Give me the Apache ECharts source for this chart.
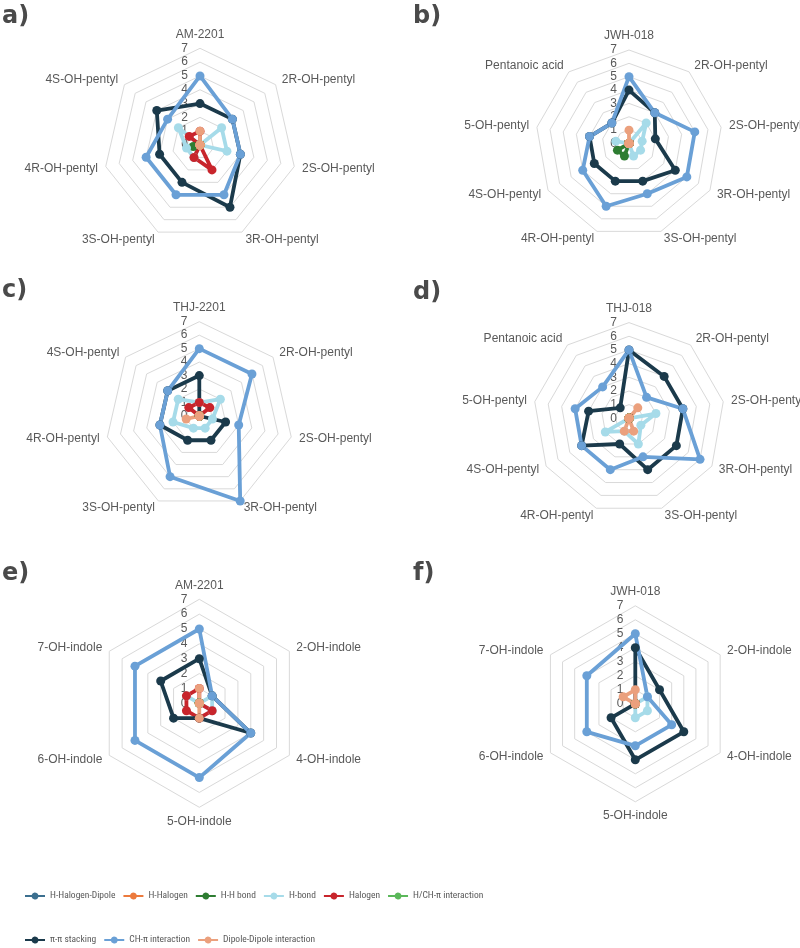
<!DOCTYPE html>
<html>
<head>
<meta charset="utf-8">
<script src="https://cdn.jsdelivr.net/npm/echarts@6.0.0/dist/echarts.min.js"></script>
<style>
  html, body { margin: 0; padding: 0; background: #fff; }
  #chart { width: 800px; height: 948px; }
</style>
</head>
<body>
<div id="chart"></div>
<script>
// interaction types, in drawing / legend order
const seriesNames = ['H-Halogen-Dipole', 'H-Halogen', 'H-H bond', 'H-bond', 'Halogen',
  'H/CH-π interaction', 'π-π stacking', 'CH-π interaction', 'Dipole-Dipole interaction']
const seriesColors = ['#3b6f8f', '#ec7a3d', '#2e7d32', '#a6dbe9', '#c8252c',
  '#5bb85a', '#1b3a4b', '#6aa0d6', '#eba07d']

// spoke names, clockwise from the top
const axesA = ['AM-2201', '2R-OH-pentyl', '2S-OH-pentyl', '3R-OH-pentyl', '3S-OH-pentyl', '4R-OH-pentyl', '4S-OH-pentyl']
const axesB = ['JWH-018', '2R-OH-pentyl', '2S-OH-pentyl', '3R-OH-pentyl', '3S-OH-pentyl', '4R-OH-pentyl', '4S-OH-pentyl', '5-OH-pentyl', 'Pentanoic acid']
const axesC = ['THJ-2201', '2R-OH-pentyl', '2S-OH-pentyl', '3R-OH-pentyl', '3S-OH-pentyl', '4R-OH-pentyl', '4S-OH-pentyl']
const axesD = ['THJ-018', '2R-OH-pentyl', '2S-OH-pentyl', '3R-OH-pentyl', '3S-OH-pentyl', '4R-OH-pentyl', '4S-OH-pentyl', '5-OH-pentyl', 'Pentanoic acid']
const axesE = ['AM-2201', '2-OH-indole', '4-OH-indole', '5-OH-indole', '6-OH-indole', '7-OH-indole']
const axesF = ['JWH-018', '2-OH-indole', '4-OH-indole', '5-OH-indole', '6-OH-indole', '7-OH-indole']

// one row per interaction type (same order as seriesNames)
const valuesA = [
  [0, 0, 0, 0, 0, 0, 0],
  [0, 0, 0, 0, 0, 0, 0],
  [0, 0, 0, 0, 0, 0.5, 0],
  [0, 2, 2, 0, 1, 1, 2],
  [1, 0, 0, 2, 1, 0, 1],
  [0, 0, 0, 0, 0, 0, 0],
  [3, 3, 3, 5, 3, 3, 4],
  [5, 3, 3, 4, 4, 4, 3],
  [1, 0, 0, 0, 0, 0, 0]
]
const valuesB = [
  [0, 0, 0, 0, 0, 0, 0, 0, 0],
  [0, 0, 0, 0, 0, 0, 0, 0, 0],
  [0, 0, 0, 0, 0, 1, 1, 0, 0],
  [0, 2, 1, 1, 1, 0, 0, 1, 0],
  [0, 0, 0, 0, 0, 0, 0, 0, 0],
  [0, 0, 0, 0, 0, 0, 0, 0, 0],
  [4, 3, 2, 4, 3, 3, 3, 3, 2],
  [5, 3, 5, 5, 4, 5, 4, 3, 2],
  [1, 0, 0, 0, 0, 0, 0, 0, 0]
]
const valuesC = [
  [0, 0, 0, 0, 0, 0, 0],
  [0, 0, 0, 0, 0, 0, 0],
  [0, 0, 0, 0, 0, 0, 0],
  [1, 2, 1, 1, 1, 2, 2],
  [1, 1, 0, 0, 0, 0, 1],
  [0, 0, 0, 0, 0, 0, 0],
  [3, 0, 2, 2, 2, 3, 3],
  [5, 5, 3, 7, 5, 3, 3],
  [0, 0, 0, 0, 0, 1, 0]
]
const valuesD = [
  [0, 0, 0, 0, 0, 0, 0, 0, 0],
  [0, 0, 0, 0, 0, 0, 0, 0, 0],
  [0, 0, 0, 0, 0, 0, 0, 0, 0],
  [0, 0, 2, 1, 2, 1, 2, 0, 0],
  [0, 0, 0, 0, 0, 0, 0, 0, 0],
  [0, 0, 0, 0, 0, 0, 0, 0, 0],
  [5, 4, 4, 4, 4, 2, 4, 3, 1],
  [5, 2, 4, 6, 3, 4, 4, 4, 3],
  [0, 1, 0, 0, 1, 1, 0, 0, 0]
]
const valuesE = [
  [0, 0, 0, 0, 0, 0],
  [0, 0, 0, 0, 0, 0],
  [0, 0, 0, 0, 0, 0],
  [0, 1, 1, 0, 0, 1],
  [1, 0, 1, 1, 1, 1],
  [0, 0, 0, 0, 0, 0],
  [3, 1, 4, 1, 2, 3],
  [5, 1, 4, 5, 5, 5],
  [1, 0, 0, 1, 0, 0]
]
const valuesF = [
  [0, 0, 0, 0, 0, 0],
  [0, 0, 0, 0, 0, 0],
  [0, 0, 0, 0, 0, 0],
  [0, 1, 1, 1, 0, 0],
  [0, 0, 0, 0, 0, 0],
  [0, 0, 0, 0, 0, 0],
  [4, 2, 4, 4, 2, 0],
  [5, 1, 3, 3, 4, 4],
  [1, 0, 0, 0, 0, 1]
]
const axisTicks = [0, 7]   // min / max of every spoke

const panels = [
  { label: 'a)', axes: axesA, values: valuesA, center: [200, 145], radius: 96.7, lx: 2, ly: 5 },
  { label: 'b)', axes: axesB, values: valuesB, center: [629, 143.5], radius: 93.5, lx: 413, ly: 5 },
  { label: 'c)', axes: axesC, values: valuesC, center: [199.3, 416], radius: 94.3, lx: 2, ly: 279 },
  { label: 'd)', axes: axesD, values: valuesD, center: [629, 418.3], radius: 95.7, lx: 413, ly: 281 },
  { label: 'e)', axes: axesE, values: valuesE, center: [199.3, 703.3], radius: 104, lx: 2, ly: 562 },
  { label: 'f)', axes: axesF, values: valuesF, center: [635.3, 703.8], radius: 98, lx: 413, ly: 562 }
]

// echarts lays radar spokes out counter-clockwise, the figure goes clockwise
const cw = arr => [arr[0]].concat(arr.slice(1).reverse())

const textFont = '"Liberation Sans", Arial, sans-serif'
const legendIcon = 'path://M0,4L6.65,4A3.5,3.5,0,0,1,13.35,4L20,4L20,6L13.35,6A3.5,3.5,0,0,1,6.65,6L0,6Z'

const radars = panels.map(p => ({
  center: p.center,
  radius: p.radius,
  startAngle: 90,
  splitNumber: 7,
  shape: 'polygon',
  nameGap: 8,
  axisName: { color: '#595959', fontSize: 12, fontFamily: textFont },
  indicator: cw(p.axes).map((n, i) => ({
    name: n, min: axisTicks[0], max: axisTicks[1],
    axisLabel: { show: i === 0 }   // only the top spoke carries the 0-7 scale
  })),
  axisLine: { show: false },
  axisTick: { show: false },
  axisLabel: { show: false, color: '#595959', fontSize: 12, margin: 12, fontFamily: textFont },
  splitLine: { lineStyle: { color: '#d9d9d9', width: 1 } },
  splitArea: { show: false }
}))

const series = []
panels.forEach((p, pi) => {
  seriesNames.forEach((name, si) => {
    series.push({
      type: 'radar',
      name: name,
      radarIndex: pi,
      symbol: 'circle',
      symbolSize: 9,
      lineStyle: { width: 3.8, color: seriesColors[si] },
      itemStyle: { color: seriesColors[si] },
      data: [{ name: name, value: cw(p.values[si]) }]
    })
  })
})

const legendBase = {
  orient: 'horizontal',
  left: 25,
  padding: 0,
  icon: legendIcon,
  itemWidth: 20,
  itemHeight: 7,
  itemGap: 8,
  textStyle: { color: '#595959', fontSize: 9.5, fontFamily: '"Roboto Condensed", ' + textFont }
}

const chart = echarts.init(document.getElementById('chart'))
chart.setOption({
  animation: false,
  backgroundColor: '#fff',
  title: panels.map(p => ({
    text: p.label, left: p.lx, top: p.ly, padding: 0,
    textStyle: { fontSize: 24, fontWeight: 'bold', color: '#4a4a4a', fontFamily: '"DejaVu Sans", sans-serif' }
  })),
  legend: [
    Object.assign({}, legendBase, { top: 891, data: seriesNames.slice(0, 6) }),
    Object.assign({}, legendBase, { top: 935, data: seriesNames.slice(6) })
  ],
  radar: radars,
  series: series
})
</script>
</body>
</html>
